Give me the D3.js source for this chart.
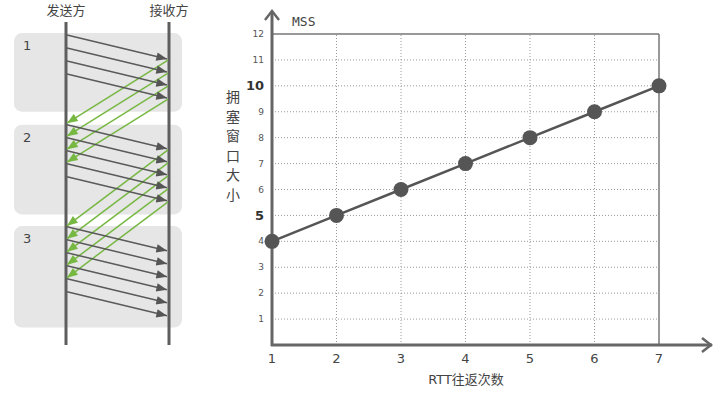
<!DOCTYPE html>
<html lang="zh">
<head>
<meta charset="utf-8">
<title>拥塞窗口</title>
<script src="https://d3js.org/d3.v7.min.js"></script>
<style>
	body { margin: 0; background: #fff; }
	text { font-family: "DejaVu Sans", "Noto Sans CJK SC", sans-serif; fill: #444; }
</style>
</head>
<body>
<div id="chart"></div>
<script>
	// data: congestion window per RTT
	var rtt = [1, 2, 3, 4, 5, 6, 7];
	var cwnd = [4, 5, 6, 7, 8, 9, 10];
	var yTicks = [1, 2, 3, 4, 5, 6, 7, 8, 9, 10, 11, 12];
	var bigTicks = [5, 10];
	var yLabel = "拥塞窗口大小";

	// timeline (in segment slots) for the left diagram
	var roundNames = ["1", "2", "3"];
	var roundWindow = [4, 5, 6];
	var roundSend = [0, 6.9, 14.75];   // when each round starts sending
	var segTravel = 1.85;              // sender -> receiver
	var ackTravel = [4.85, 5.85];      // receiver -> sender, rounds 1 and 2
	var roundBox = [[-0.15, 5.9], [6.9, 13.8], [14.7, 22.5]];

	var w = 722, h = 395;
	var svg = d3.select("#chart").append("svg")
		.attr("width", w).attr("height", h);

	var defs = svg.append("defs");
	function marker(id, color) {
		defs.append("marker")
			.attr("id", id)
			.attr("viewBox", "0 0 10 8")
			.attr("refX", 10).attr("refY", 4)
			.attr("markerUnits", "userSpaceOnUse")
			.attr("markerWidth", 12).attr("markerHeight", 8.5)
			.attr("orient", "auto")
			.append("path")
			.attr("d", "M0,0 L10,4 L0,8 Z")
			.attr("fill", color);
	}
	marker("arrBlack", "#555");
	marker("arrGreen", "#77b843");

	// ---------- left: sender / receiver diagram ----------
	var senderX = 66, receiverX = 169;
	var tY = d3.scaleLinear().domain([0, 1]).range([35, 48]);

	var left = svg.append("g");

	left.selectAll("rect.round")
		.data(roundBox)
		.enter().append("rect")
		.attr("class", "round")
		.attr("x", 14).attr("width", 168)
		.attr("y", function(d) { return tY(d[0]); })
		.attr("height", function(d) { return tY(d[1]) - tY(d[0]); })
		.attr("rx", 8)
		.attr("fill", "#e6e6e6");

	left.selectAll("text.rname")
		.data(roundNames)
		.enter().append("text")
		.attr("x", 23)
		.attr("y", function(d, i) { return tY(roundBox[i][0]) + 17; })
		.attr("font-size", 13)
		.text(function(d) { return d; });

	[senderX, receiverX].forEach(function(x) {
		left.append("line")
			.attr("x1", x).attr("x2", x)
			.attr("y1", 22).attr("y2", 345)
			.attr("stroke", "#5e5e5e").attr("stroke-width", 3);
	});

	left.append("text").attr("x", senderX).attr("y", 15)
		.attr("text-anchor", "middle").attr("font-size", 13).text("发送方");
	left.append("text").attr("x", receiverX).attr("y", 15)
		.attr("text-anchor", "middle").attr("font-size", 13).text("接收方");

	// build segments and acks from the round data
	var segs = [], acks = [];
	roundWindow.forEach(function(n, r) {
		for (var k = 0; k < n; k++) {
			var t0 = roundSend[r] + k;
			segs.push({ t0: t0, t1: t0 + segTravel });
			if (r < ackTravel.length) {
				var a0 = t0 + segTravel + 0.08;
				acks.push({ t0: a0, t1: a0 + ackTravel[r] });
			}
		}
	});

	left.selectAll("line.ack")
		.data(acks)
		.enter().append("line")
		.attr("class", "ack")
		.attr("x1", receiverX - 1).attr("y1", function(d) { return tY(d.t0); })
		.attr("x2", senderX + 1).attr("y2", function(d) { return tY(d.t1); })
		.attr("stroke", "#77b843").attr("stroke-width", 1.5)
		.attr("marker-end", "url(#arrGreen)");

	left.selectAll("line.seg")
		.data(segs)
		.enter().append("line")
		.attr("class", "seg")
		.attr("x1", senderX + 1).attr("y1", function(d) { return tY(d.t0); })
		.attr("x2", receiverX - 2).attr("y2", function(d) { return tY(d.t1); })
		.attr("stroke", "#5a5a5a").attr("stroke-width", 1.5)
		.attr("marker-end", "url(#arrBlack)");

	// ---------- right: cwnd chart ----------
	var x = d3.scaleLinear().domain([1, 7]).range([272, 659]);
	var y = d3.scaleLinear().domain([0, 12]).range([345, 34]);

	var g = svg.append("g");

	// dotted grid
	g.selectAll("line.hgrid")
		.data(yTicks.filter(function(v) { return v < 12; }))
		.enter().append("line")
		.attr("class", "hgrid")
		.attr("x1", x(1)).attr("x2", x(7))
		.attr("y1", function(d) { return y(d); }).attr("y2", function(d) { return y(d); })
		.attr("stroke", "#999").attr("stroke-width", 1).attr("stroke-dasharray", "1,2");

	g.selectAll("line.vgrid")
		.data(rtt.slice(1, -1))
		.enter().append("line")
		.attr("class", "vgrid")
		.attr("y1", y(0)).attr("y2", y(12))
		.attr("x1", function(d) { return x(d); }).attr("x2", function(d) { return x(d); })
		.attr("stroke", "#999").attr("stroke-width", 1).attr("stroke-dasharray", "1,2");

	// frame top / right
	g.append("line").attr("x1", x(1)).attr("x2", x(7)).attr("y1", y(12)).attr("y2", y(12))
		.attr("stroke", "#777").attr("stroke-width", 1.5);
	g.append("line").attr("x1", x(7)).attr("x2", x(7)).attr("y1", y(12)).attr("y2", y(0))
		.attr("stroke", "#777").attr("stroke-width", 1.5);

	// axes with open arrow heads
	var axisColor = "#666";
	g.append("line").attr("x1", x(1)).attr("x2", x(1)).attr("y1", y(0) + 1).attr("y2", 11)
		.attr("stroke", axisColor).attr("stroke-width", 3);
	g.append("path").attr("d", "M" + (x(1) - 7) + ",20 L" + x(1) + ",11 L" + (x(1) + 7) + ",20")
		.attr("fill", "none").attr("stroke", axisColor).attr("stroke-width", 2.5);
	g.append("line").attr("x1", x(1) - 1).attr("x2", 712).attr("y1", y(0)).attr("y2", y(0))
		.attr("stroke", axisColor).attr("stroke-width", 3);
	g.append("path").attr("d", "M702," + (y(0) - 7) + " L711," + y(0) + " L702," + (y(0) + 7))
		.attr("fill", "none").attr("stroke", axisColor).attr("stroke-width", 2.5);

	// tick labels
	g.selectAll("text.ytick")
		.data(yTicks)
		.enter().append("text")
		.attr("class", "ytick")
		.attr("x", 264)
		.attr("y", function(d) { return y(d); })
		.attr("dy", "0.35em")
		.attr("text-anchor", "end")
		.attr("font-size", function(d) { return bigTicks.indexOf(d) >= 0 ? 13 : 9; })
		.attr("font-weight", function(d) { return bigTicks.indexOf(d) >= 0 ? "bold" : "normal"; })
		.style("fill", function(d) { return bigTicks.indexOf(d) >= 0 ? "#333" : "#555"; })
		.text(function(d) { return d; });

	g.selectAll("text.xtick")
		.data(rtt)
		.enter().append("text")
		.attr("class", "xtick")
		.attr("x", function(d) { return x(d); })
		.attr("y", 363)
		.attr("text-anchor", "middle")
		.attr("font-size", 13)
		.text(function(d) { return d; });

	g.append("text").attr("x", 466).attr("y", 384)
		.attr("text-anchor", "middle").attr("font-size", 13)
		.text("RTT往返次数");

	g.append("text").attr("x", 292).attr("y", 26)
		.attr("font-size", 13)
		.style("font-family", "'DejaVu Sans Mono', monospace")
		.text("MSS");

	g.selectAll("text.ylab")
		.data(yLabel.split(""))
		.enter().append("text")
		.attr("class", "ylab")
		.attr("x", 233)
		.attr("y", function(d, i) { return 97 + i * 19.6; })
		.attr("dy", "0.35em")
		.attr("text-anchor", "middle")
		.attr("font-size", 14)
		.text(function(d) { return d; });

	// line + points
	var pts = rtt.map(function(r, i) { return [r, cwnd[i]]; });
	g.append("path")
		.datum(pts)
		.attr("d", d3.line().x(function(d) { return x(d[0]); }).y(function(d) { return y(d[1]); }))
		.attr("fill", "none").attr("stroke", "#555").attr("stroke-width", 2.5);

	g.selectAll("circle.pt")
		.data(pts)
		.enter().append("circle")
		.attr("class", "pt")
		.attr("cx", function(d) { return x(d[0]); })
		.attr("cy", function(d) { return y(d[1]); })
		.attr("r", 7.5)
		.attr("fill", "#555");
</script>
</body>
</html>
